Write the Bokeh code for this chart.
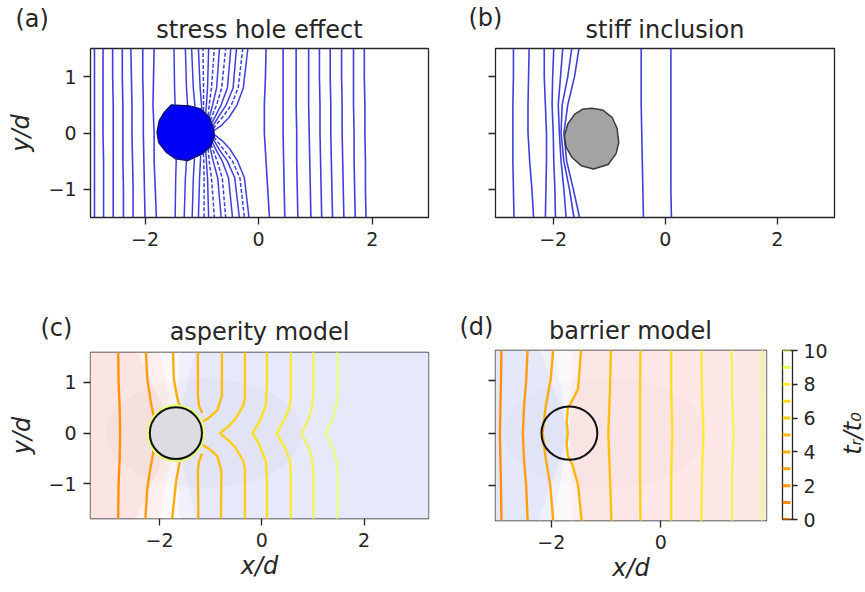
import math
from bokeh.plotting import figure
from bokeh.layouts import row, column
from bokeh.models import Range1d, FixedTicker
from bokeh.core.properties import value
from bokeh.embed import file_html
from bokeh.resources import INLINE

FONT = "DejaVu Sans"
INK = "#262626"

# ---------------- (a) stress hole effect ----------------
a_ys = [1.5, 1.0, 0.5, 0.0, -0.5, -1.0, -1.5]
a_left_xs = [
    [-2.89, -2.89, -2.89, -2.89, -2.89, -2.89, -2.89],
    [-2.74, -2.74, -2.74, -2.74, -2.73, -2.73, -2.73],
    [-2.57, -2.57, -2.56, -2.56, -2.56, -2.56, -2.56],
    [-2.40, -2.40, -2.39, -2.39, -2.39, -2.38, -2.38],
    [-2.25, -2.24, -2.23, -2.23, -2.22, -2.21, -2.21],
    [-2.04, -2.04, -2.03, -2.03, -2.02, -2.01, -2.00],
    [-1.84, -1.85, -1.86, -1.84, -1.84, -1.82, -1.80],
]
a_right_xs = [
    [0.13, 0.12, 0.10, 0.10, 0.13, 0.16, 0.19],
    [0.43, 0.43, 0.43, 0.43, 0.44, 0.45, 0.46],
    [0.66, 0.66, 0.66, 0.67, 0.67, 0.68, 0.69],
    [0.88, 0.88, 0.88, 0.89, 0.90, 0.91, 0.92],
    [1.07, 1.07, 1.08, 1.08, 1.09, 1.10, 1.11],
    [1.26, 1.26, 1.27, 1.27, 1.28, 1.29, 1.30],
    [1.46, 1.46, 1.47, 1.47, 1.48, 1.49, 1.50],
    [1.67, 1.67, 1.67, 1.68, 1.68, 1.69, 1.70],
    [1.86, 1.86, 1.87, 1.87, 1.88, 1.88, 1.89],
]
# fan of contours leaving the right side of the hole (upper half)
a_fan_up_xs = [
    [-1.47, -1.48, -1.49],
    [-1.25, -1.27, -1.29],
    [-1.12, -1.15, -1.18],
    [-1.00, -1.03, -1.06],
    [-0.97, -0.97, -0.98],
    [-0.93, -0.92, -0.90, -0.88],
    [-0.89, -0.87, -0.83, -0.78],
    [-0.87, -0.81, -0.74, -0.69],
    [-0.85, -0.74, -0.65, -0.58],
    [-0.83, -0.76, -0.66, -0.55, -0.49],
    [-0.81, -0.70, -0.57, -0.45, -0.39],
    [-0.80, -0.62, -0.48, -0.36, -0.28],
    [-0.79, -0.66, -0.52, -0.38, -0.27, -0.19],
]
a_fan_up_ys = [
    [0.50, 0.8, 1.5],
    [0.48, 0.8, 1.5],
    [0.46, 0.8, 1.5],
    [0.43, 0.8, 1.5],
    [0.39, 0.8, 1.5],
    [0.35, 0.5, 0.8, 1.5],
    [0.31, 0.5, 0.8, 1.5],
    [0.27, 0.5, 0.8, 1.5],
    [0.22, 0.5, 0.8, 1.5],
    [0.17, 0.3, 0.5, 0.8, 1.5],
    [0.12, 0.3, 0.5, 0.8, 1.5],
    [0.08, 0.3, 0.5, 0.8, 1.5],
    [0.04, 0.13, 0.28, 0.5, 0.8, 1.5],
]
# lower half of the fan
a_fan_dn_xs = [
    [-1.45, -1.46, -1.47],
    [-1.27, -1.29, -1.31],
    [-1.13, -1.15, -1.17],
    [-1.02, -1.04, -1.06],
    [-0.97, -0.96, -0.96],
    [-0.93, -0.92, -0.90, -0.88],
    [-0.89, -0.87, -0.83, -0.78],
    [-0.86, -0.80, -0.72, -0.66],
    [-0.84, -0.73, -0.64, -0.58],
    [-0.82, -0.75, -0.64, -0.53, -0.46],
    [-0.80, -0.69, -0.55, -0.42, -0.34],
    [-0.79, -0.61, -0.46, -0.33, -0.25],
    [-0.78, -0.65, -0.51, -0.37, -0.25, -0.17],
]
a_fan_dn_ys = [
    [-0.46, -0.8, -1.5],
    [-0.49, -0.8, -1.5],
    [-0.45, -0.8, -1.5],
    [-0.40, -0.8, -1.5],
    [-0.36, -0.8, -1.5],
    [-0.32, -0.5, -0.8, -1.5],
    [-0.28, -0.5, -0.8, -1.5],
    [-0.24, -0.5, -0.8, -1.5],
    [-0.20, -0.5, -0.8, -1.5],
    [-0.15, -0.3, -0.5, -0.8, -1.5],
    [-0.11, -0.3, -0.5, -0.8, -1.5],
    [-0.07, -0.3, -0.5, -0.8, -1.5],
    [-0.03, -0.13, -0.28, -0.5, -0.8, -1.5],
]
a_fan_dashed = [False, False, False, False, True, False, True, False, True, False, False, True, False]
a_hole_x = [-1.54, -1.22, -1.02, -0.87, -0.79, -0.78, -0.84, -0.99, -1.25, -1.46, -1.63, -1.76, -1.79, -1.75, -1.66]
a_hole_y = [0.50, 0.48, 0.43, 0.28, 0.07, -0.05, -0.23, -0.37, -0.49, -0.46, -0.34, -0.17, 0.01, 0.22, 0.37]

# ---------------- (b) stiff inclusion ----------------
b_ys = [1.5, 1.0, 0.5, 0.0, -0.5, -1.0, -1.5]
b_xs = [
    [-2.71, -2.71, -2.72, -2.72, -2.72, -2.71, -2.70],
    [-2.43, -2.44, -2.45, -2.45, -2.42, -2.38, -2.35],
    [-2.16, -2.16, -2.14, -2.12, -2.12, -2.13, -2.14],
    [-1.99, -2.01, -2.02, -2.00, -1.99, -1.97, -1.96],
    [-1.83, -1.87, -1.91, -1.89, -1.86, -1.81, -1.77],
    [-1.67, -1.74, -1.84, -1.86, -1.81, -1.71, -1.63],
    [-1.54, -1.62, -1.74, -1.81, -1.76, -1.64, -1.53],
    [-0.43, -0.43, -0.43, -0.42, -0.41, -0.40, -0.39],
    [0.10, 0.10, 0.10, 0.10, 0.10, 0.10, 0.11],
]
b_incl_x = [-1.31, -1.12, -0.95, -0.86, -0.83, -0.88, -1.02, -1.28, -1.50, -1.66, -1.77, -1.80, -1.74, -1.62, -1.48]
b_incl_y = [0.44, 0.41, 0.28, 0.08, -0.17, -0.37, -0.56, -0.64, -0.58, -0.44, -0.25, -0.05, 0.16, 0.33, 0.42]

# ---------------- (c) asperity model: rupture-time contours ----------------
c_levels = [1, 2, 2, 3, 3, 4, 4, 5, 5, 6, 7, 8, 9, 10]
c_xs = [
    [-2.81, -2.80, -2.78, -2.77, -2.78, -2.80, -2.81],
    [-2.27, -2.24, -2.17, -2.11],
    [-2.11, -2.17, -2.24, -2.28],
    [-1.74, -1.72, -1.65, -1.59],
    [-1.59, -1.67, -1.76],
    [-1.25, -1.25, -1.23, -1.18, -1.17],
    [-1.17, -1.18, -1.23, -1.25, -1.24],
    [-0.78, -0.78, -0.87, -1.03, -1.15],
    [-1.15, -1.03, -0.87, -0.79, -0.80],
    [-0.33, -0.33, -0.36, -0.44, -0.54, -0.66, -0.82, -0.66, -0.54, -0.44, -0.36, -0.33, -0.33],
    [0.10, 0.10, 0.08, -0.05, -0.18, -0.05, 0.08, 0.10, 0.10],
    [0.57, 0.57, 0.55, 0.46, 0.29, 0.46, 0.55, 0.57, 0.57],
    [1.01, 1.01, 0.99, 0.92, 0.78, 0.92, 0.99, 1.01, 1.01],
    [1.48, 1.48, 1.46, 1.39, 1.25, 1.39, 1.46, 1.48, 1.48],
]
c_ys = [
    [1.7, 1.0, 0.5, 0.0, -0.5, -1.0, -1.75],
    [1.7, 1.07, 0.61, 0.31],
    [-0.31, -0.64, -1.09, -1.75],
    [1.7, 1.07, 0.68, 0.49],
    [-0.49, -0.90, -1.75],
    [1.7, 0.74, 0.55, 0.43, 0.40],
    [-0.40, -0.43, -0.56, -0.74, -1.75],
    [1.7, 0.74, 0.45, 0.31, 0.23],
    [-0.23, -0.31, -0.45, -0.74, -1.75],
    [1.7, 0.70, 0.55, 0.41, 0.25, 0.13, 0.0, -0.13, -0.25, -0.41, -0.55, -0.70, -1.75],
    [1.7, 0.94, 0.55, 0.22, 0.0, -0.22, -0.55, -0.94, -1.75],
    [1.7, 0.80, 0.55, 0.30, 0.0, -0.30, -0.55, -0.80, -1.75],
    [1.7, 0.80, 0.55, 0.30, 0.0, -0.30, -0.55, -0.80, -1.75],
    [1.7, 0.80, 0.55, 0.30, 0.0, -0.30, -0.55, -0.80, -1.75],
]
c_asperity = (-1.68, 0.0, 0.51)

# ---------------- (d) barrier model ----------------
d_levels = [1, 2, 3, 4, 5, 6, 7, 8, 9, 10]
d_xs = [
    [-2.91, -2.92, -2.93, -2.94, -2.93, -2.92, -2.91],
    [-2.43, -2.46, -2.50, -2.52, -2.50, -2.46, -2.43],
    [-1.96, -2.01, -2.10, -2.16, -2.11, -2.02, -1.96],
    [-1.45, -1.51, -1.65, -1.70, -1.72, -1.70, -1.72, -1.70, -1.61, -1.51, -1.44],
    [-0.91, -0.93, -0.96, -0.93, -0.90],
    [-0.37, -0.38, -0.38, -0.38, -0.37],
    [0.19, 0.19, 0.21, 0.19, 0.19],
    [0.74, 0.75, 0.78, 0.75, 0.74],
    [1.29, 1.30, 1.33, 1.30, 1.30],
    [1.85, 1.85, 1.86, 1.85, 1.85],
]
d_ys = [
    [1.7, 1.0, 0.5, 0.0, -0.5, -1.0, -1.75],
    [1.7, 1.0, 0.5, 0.0, -0.5, -1.0, -1.75],
    [1.7, 1.04, 0.53, 0.0, -0.43, -1.0, -1.75],
    [1.7, 0.85, 0.56, 0.47, 0.2, 0.0, -0.2, -0.43, -0.62, -1.0, -1.75],
    [1.7, 0.8, 0.0, -0.8, -1.75],
    [1.7, 0.8, 0.0, -0.8, -1.75],
    [1.7, 0.8, 0.0, -0.8, -1.75],
    [1.7, 0.8, 0.0, -0.8, -1.75],
    [1.7, 0.8, 0.0, -0.8, -1.75],
    [1.7, 0.8, 0.0, -0.8, -1.75],
]
d_barrier = (-1.67, 0.0, 0.51)

# colour bar
cb_levels = [0, 1, 2, 3, 4, 5, 6, 7, 8, 9, 10]
cb_ticks = [0, 2, 4, 6, 8, 10]

# Wistia (reversed) colours for rupture-time levels 0..10
WISTIA_R = ["#fc7f00", "#fd8c00", "#fe9900", "#ffa600", "#ffb100", "#ffbd00",
            "#ffce0a", "#ffdf15", "#faed2d", "#eff654", "#e4ff7a"]
BLUE = "#2a2ad8"


def make_fig(w, h, xr, yr, left, right, top, bottom, yloc="left"):
    p = figure(width=w, height=h, x_range=Range1d(*xr), y_range=Range1d(*yr),
               output_backend="svg", toolbar_location=None, title_location=None,
               min_border_left=left, min_border_right=right,
               min_border_top=top, min_border_bottom=bottom,
               y_axis_location=yloc)
    p.grid.visible = False
    p.background_fill_color = "white"
    p.border_fill_color = "white"
    p.outline_line_color = INK
    p.outline_line_width = 1.3
    for ax in p.axis:
        ax.axis_line_color = None
        ax.major_tick_in = 0
        ax.major_tick_out = 7
        ax.major_tick_line_color = INK
        ax.major_tick_line_width = 1.3
        ax.minor_tick_line_color = None
        ax.major_label_text_font = FONT
        ax.major_label_text_font_size = "19px"
        ax.major_label_text_color = INK
        ax.major_label_standoff = 7
        ax.axis_label_text_font = FONT
        ax.axis_label_text_font_size = "24px"
        ax.axis_label_text_font_style = "italic"
        ax.axis_label_text_color = INK
    return p


def strip(w, h):
    """Blank canvas whose data units are pixels, used for text around the panels."""
    p = figure(width=w, height=h, x_range=Range1d(0, w), y_range=Range1d(0, h),
               output_backend="svg", toolbar_location=None, title_location=None,
               x_axis_location=None, y_axis_location=None, min_border=0)
    p.grid.visible = False
    p.outline_line_color = None
    p.background_fill_color = "white"
    p.border_fill_color = "white"
    return p


def put(p, x, y, s, align="left", size="24px", angle=0.0, baseline="alphabetic", style="normal"):
    p.text(x=[x], y=[p.height - y], text=[s], text_font=value(FONT),
           text_font_size=value(size), text_align=align, text_baseline=baseline,
           angle=angle, text_color=INK, text_font_style=style)


def minus(v):
    return ("\u2212" + str(abs(v))) if v < 0 else str(v)


def set_ticks(p, xt, yt, ylabels=True):
    p.xaxis.ticker = FixedTicker(ticks=xt)
    p.xaxis.major_label_overrides = {t: minus(t) for t in xt}
    p.yaxis.ticker = FixedTicker(ticks=yt)
    p.yaxis.major_label_overrides = {t: (minus(t) if ylabels else "") for t in yt}


def sectors(p, cx, edges, colors, xlo, xhi, ytop=1.75):
    xs, ys, cs = [], [], []
    xs.append([cx, edges[0], xlo, xlo, edges[0]])
    ys.append([0, ytop, ytop, -ytop, -ytop])
    cs.append(colors[0])
    for i in range(len(edges) - 1):
        xs.append([cx, edges[i], edges[i + 1]]); ys.append([0, ytop, ytop]); cs.append(colors[i + 1])
        xs.append([cx, edges[i], edges[i + 1]]); ys.append([0, -ytop, -ytop]); cs.append(colors[i + 1])
    xs.append([cx, edges[-1], xhi, xhi, edges[-1]])
    ys.append([0, ytop, ytop, -ytop, -ytop])
    cs.append(colors[-1])
    p.patches(xs=xs, ys=ys, fill_color=cs, line_color=cs, line_width=0.5)


def box(p):
    # own wrapper so that neighbouring plots keep their own frame edges
    return row(p)


# ---------- headings ----------
ha = strip(430, 46)
put(ha, 15, 18, "(a)")
put(ha, 259, 29, "stress hole effect", align="center")
hb = strip(435, 46)
put(hb, 38, 17, "(b)")
put(hb, 234.5, 29, "stiff inclusion", align="center")
hc = strip(430, 58)
put(hc, 40, 37, "(c)")
put(hc, 259, 41, "asperity model", align="center")
hd = strip(345, 58)
put(hd, 29, 36, "(d)")
put(hd, 200, 40, "barrier model", align="center")

# ---------- panel (a) ----------
pa = make_fig(430, 244, (-2.96, 2.99), (-1.5, 1.5), 90, 2, 2, 73)
set_ticks(pa, [-2, 0, 2], [-1, 0, 1])
pa.yaxis.axis_label = "y/d"
pa.yaxis.axis_label_standoff = 10
for xs in a_left_xs + a_right_xs:
    pa.line(xs, a_ys, line_color=BLUE, line_width=1.6, line_alpha=0.9)
for xs, ys, dash in zip(a_fan_up_xs + a_fan_dn_xs, a_fan_up_ys + a_fan_dn_ys, a_fan_dashed + a_fan_dashed):
    pa.line(xs, ys, line_color=BLUE, line_width=1.5, line_alpha=0.9,
            line_dash="4 2" if dash else "solid")
pa.patch(a_hole_x, a_hole_y, fill_color="#0000f5", line_color="#10106a", line_width=1.3)

# ---------- panel (b) ----------
pb = make_fig(435, 244, (-3.03, 3.02), (-1.5, 1.5), 65, 31, 2, 73)
set_ticks(pb, [-2, 0, 2], [-1, 0, 1], ylabels=False)
for xs in b_xs:
    pb.line(xs, b_ys, line_color=BLUE, line_width=1.6, line_alpha=0.9)
pb.patch(b_incl_x, b_incl_y, fill_color="#a3a3a3", line_color="#3a3a3a", line_width=1.5)

# ---------- panel (c) ----------
pc = make_fig(430, 244, (-3.35, 3.26), (-1.68, 1.59), 90, 2, 4, 74)
set_ticks(pc, [-2, 0, 2], [-1, 0, 1])
pc.yaxis.axis_label = "y/d"
pc.yaxis.axis_label_standoff = 9
pc.xaxis.axis_label = "x/d"
pc.xaxis.axis_label_standoff = 2
sectors(pc, c_asperity[0], [-2.50, -2.02, -1.60, -1.27],
        ["#fbe5e3", "#fcefee", "#fbf8fa", "#f1f0fb", "#e7e8f9"], -4, 4)
pc.ellipse(x=-1.13, y=0, width=3.86, height=2.16, fill_color="#000000", fill_alpha=0.018, line_color=None)
for lvl, xs, ys in zip(c_levels, c_xs, c_ys):
    pc.line(xs, ys, line_color=WISTIA_R[lvl], line_width=2.4, line_alpha=0.95)
cx, cy, r = c_asperity
pc.ellipse(x=cx, y=cy, width=2 * r + 0.06, height=2 * r + 0.06, fill_color=None,
           line_color=WISTIA_R[10], line_width=3)
pc.ellipse(x=cx, y=cy, width=2 * r, height=2 * r, fill_color="#dcdce2",
           line_color="#111111", line_width=2)

# ---------- panel (d) ----------
pd_ = make_fig(345, 244, (-3.02, 1.93), (-1.67, 1.58), 65, 9, 2, 72)
set_ticks(pd_, [-2, 0], [-1, 0, 1], ylabels=False)
pd_.xaxis.axis_label = "x/d"
pd_.xaxis.axis_label_standoff = 2
sectors(pd_, d_barrier[0], [-2.25, -1.98, -1.60, -1.42],
        ["#e5e8f8", "#eef0fa", "#fbf9fb", "#fcf0f0", "#fde7e7"], -4, 3)
pd_.ellipse(x=-1.04, y=0, width=3.66, height=2.14, fill_color="#000000", fill_alpha=0.016, line_color=None)
for lvl, xs, ys in zip(d_levels, d_xs, d_ys):
    pd_.line(xs, ys, line_color=WISTIA_R[lvl], line_width=2.4, line_alpha=0.95)
cx, cy, r = d_barrier
pd_.ellipse(x=cx, y=cy, width=2 * r, height=2 * r, fill_color=None,
            line_color="#111111", line_width=2)

# ---------- colour bar (full row height so its top label has room) ----------
pcb = make_fig(65, 302, (0, 1), (0, 10), 7, 48, 60, 73, yloc="right")
pcb.xaxis.visible = False
pcb.yaxis.ticker = FixedTicker(ticks=cb_ticks)
pcb.yaxis.major_tick_out = 5
pcb.yaxis.major_label_standoff = 6
pcb.segment(x0=[0] * len(cb_levels), x1=[0.8] * len(cb_levels), y0=cb_levels, y1=cb_levels,
            line_color=[WISTIA_R[l] for l in cb_levels], line_width=3)
hcb = strip(25, 302)
put(hcb, 12, 143, "t\u1d63/t\u2080", align="center", baseline="middle", angle=math.pi / 2, style="italic")

layout = column(
    row(box(ha), box(hb)),
    row(box(pa), box(pb)),
    row(column(box(hc), box(pc)), column(box(hd), box(pd_)), box(pcb), box(hcb)),
)
open("out.html", "w").write(file_html(layout, INLINE))
